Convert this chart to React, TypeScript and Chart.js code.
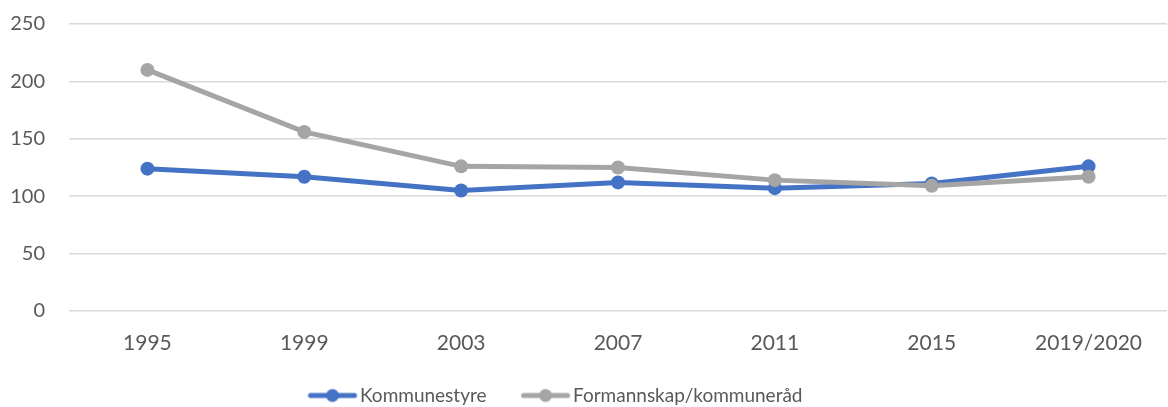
import React, { useEffect, useRef } from "react";
import { Chart, registerables } from "chart.js";

Chart.register(...registerables);

const categories = ["1995", "1999", "2003", "2007", "2011", "2015", "2019/2020"];
const kommunestyre = [124, 117, 105, 112, 107, 111, 126];
const formannskap = [210, 156, 126, 125, 114, 109, 117];
const seriesNames = ["Kommunestyre", "Formannskap/kommuneråd"];
const yTicks = [0, 50, 100, 150, 200, 250];

const BLUE = "#4472C4";
const GRAY = "#A5A5A5";
const TEXT = "#595959";
const FONT = "Lato";

function legendIcon(color: string): HTMLCanvasElement {
  const c = document.createElement("canvas");
  c.width = 100;
  c.height = 16;
  const ctx = c.getContext("2d")!;
  ctx.strokeStyle = color;
  ctx.lineWidth = 5;
  ctx.lineCap = "round";
  ctx.beginPath();
  ctx.moveTo(34, 8);
  ctx.lineTo(78, 8);
  ctx.stroke();
  ctx.fillStyle = color;
  ctx.beginPath();
  ctx.arc(56, 8, 6.5, 0, Math.PI * 2);
  ctx.fill();
  return c;
}

const legendShift = {
  id: "legendShift",
  afterLayout(chart: any) {
    const lg = chart.legend;
    if (!lg || !lg.lineWidths) return;
    const pad = lg.options.labels.padding;
    const desiredX = 302.5;
    lg.right = 2 * desiredX - lg.left - pad + lg.lineWidths[0];
  },
};

export default function App() {
  const ref = useRef<HTMLCanvasElement | null>(null);
  useEffect(() => {
    if (!ref.current) return;
    const icons = [legendIcon(BLUE), legendIcon(GRAY)];
    const chart = new Chart(ref.current, {
      type: "line",
      plugins: [legendShift],
      data: {
        labels: categories,
        datasets: [
          {
            label: seriesNames[0],
            data: kommunestyre,
            borderColor: BLUE,
            backgroundColor: BLUE,
            borderWidth: 5,
            pointRadius: 7,
            pointBorderWidth: 0,
            pointBackgroundColor: BLUE,
            order: 1,
          },
          {
            label: seriesNames[1],
            data: formannskap,
            borderColor: GRAY,
            backgroundColor: GRAY,
            borderWidth: 5,
            pointRadius: 7,
            pointBorderWidth: 0,
            pointBackgroundColor: GRAY,
            order: 0,
          },
        ],
      },
      options: {
        responsive: false,
        animation: false,
        layout: { padding: { top: 24, left: 0, right: 0, bottom: 0 } },
        plugins: {
          tooltip: { enabled: false },
          legend: {
            position: "bottom",
            labels: {
              usePointStyle: true,
              pointStyleWidth: 48,
              padding: 29,
              color: TEXT,
              font: { family: FONT, size: 19 },
              sort: (a: any, b: any) => a.datasetIndex - b.datasetIndex,
              generateLabels: (chart: any) => {
                const items = Chart.defaults.plugins.legend.labels.generateLabels(chart);
                return items.map((it: any) => ({ ...it, pointStyle: icons[it.datasetIndex] }));
              },
            },
          },
        },
        scales: {
          x: {
            offset: true,
            grid: { display: false, drawTicks: false },
            border: { display: false },
            ticks: { color: TEXT, font: { family: FONT, size: 21 }, padding: 20, maxRotation: 0 },
            afterFit: (scale: any) => {
              scale.height = 46;
            },
          },
          y: {
            min: 0,
            max: 250,
            afterBuildTicks: (scale: any) => {
              scale.ticks = yTicks.map((v) => ({ value: v }));
            },
            afterFit: (scale: any) => {
              scale.width = 69;
              scale.paddingTop = 0;
              scale.paddingBottom = 0;
            },
            grid: { color: "#D9D9D9", lineWidth: 1.5, drawTicks: false },
            border: { display: false },
            ticks: { color: TEXT, font: { family: FONT, size: 20 }, padding: 24 },
          },
        },
      },
    });
    return () => chart.destroy();
  }, []);
  return (
    <div style={{ position: "fixed", left: 0, top: 0, width: 1168, height: 407, overflow: "hidden", background: "#fff" }}>
      <canvas ref={ref} width={1174} height={415} style={{ width: 1174, height: 415, display: "block" }} />
    </div>
  );
}
